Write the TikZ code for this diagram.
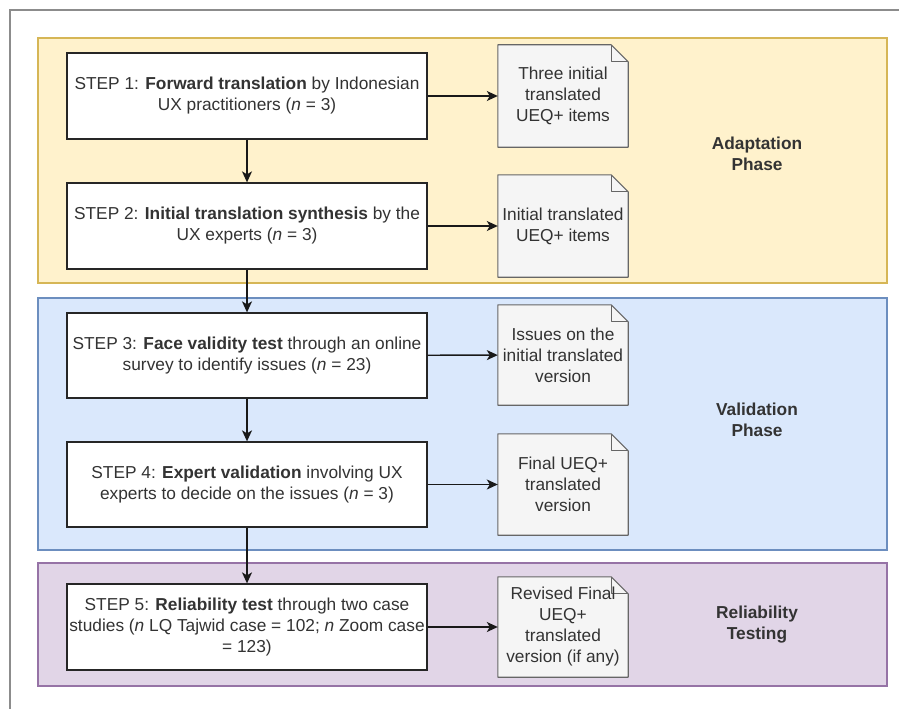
\documentclass[tikz,border=0pt]{standalone}
\usepackage{fontspec}
\setmainfont{Liberation Sans}
\usetikzlibrary{arrows.meta}
\definecolor{yfill}{HTML}{FFF2CC}\definecolor{ydraw}{HTML}{D6B656}
\definecolor{bfill}{HTML}{DAE8FC}\definecolor{bdraw}{HTML}{6C8EBF}
\definecolor{pfill}{HTML}{E1D5E7}\definecolor{pdraw}{HTML}{9673A6}
\definecolor{docfill}{HTML}{F5F5F5}\definecolor{docdraw}{HTML}{666666}
\definecolor{txt}{HTML}{333333}
\definecolor{framec}{HTML}{8C8C8C}
\pgfdeclarelayer{bg}\pgfdeclarelayer{mid}
\pgfsetlayers{bg,mid,main}
\begin{document}
\begin{tikzpicture}[x=1pt,y=-1pt,
  band/.style={line width=1.2pt},
  stepbox/.style={draw=black!85, line width=1.3pt, fill=white, minimum width=360pt,
    minimum height=86pt, inner sep=0pt, align=center, text=txt,
    font=\fontsize{17.3}{21}\selectfont},
  docnode/.style={minimum width=130pt, minimum height=101pt, inner sep=0pt, align=center,
    text=txt, font=\fontsize{17.3}{21}\selectfont},
  docshape/.style={draw=docdraw, fill=docfill, line width=1.1pt, line join=round},
  phase/.style={align=center, text=txt, font=\fontsize{17.3}{21}\selectfont\bfseries},
  conn/.style={-{Stealth[length=11pt,width=10pt,inset=3pt]}, line width=1.4pt, draw=black!90}]
\useasboundingbox (0,0) rectangle (899,709);

\begin{pgfonlayer}{bg}
\fill[white] (0,0) rectangle (899,709);
\draw[band, draw=ydraw, fill=yfill] (38,38) rectangle (887,283);
\draw[band, draw=bdraw, fill=bfill] (38,298) rectangle (887,550);
\draw[band, draw=pdraw, fill=pfill] (38,563) rectangle (887,686);
\end{pgfonlayer}
\draw[framec, line width=1.5pt] (10,709) -- (10,10) -- (899,10);

% steps
\node[stepbox] (s1) at (247,96) {STEP 1: \textbf{Forward translation} by Indonesian\\UX practitioners (\textit{n} = 3)};
\node[stepbox] (s2) at (247,226) {STEP 2: \textbf{Initial translation synthesis} by the\\UX experts (\textit{n} = 3)};
\node[stepbox, minimum height=85pt] (s3) at (247,355.5) {STEP 3: \textbf{Face validity test} through an online\\survey to identify issues (\textit{n} = 23)};
\node[stepbox, minimum height=85pt] (s4) at (247,484.5) {STEP 4: \textbf{Expert validation} involving UX\\experts to decide on the issues (\textit{n} = 3)};
\node[stepbox] (s5) at (247,627) {STEP 5: \textbf{Reliability test} through two case\\studies (\textit{n} LQ Tajwid case = 102; \textit{n} Zoom case\\= 123)};

% documents
\node[docnode, minimum height=102pt] (d1) at (563,96) {Three initial\\translated\\UEQ+ items};
\node[docnode, minimum height=102pt] (d2) at (563,226) {Initial translated\\UEQ+ items};
\node[docnode, minimum height=100pt] (d3) at (563,355) {Issues on the\\initial translated\\version};
\node[docnode, minimum height=101pt] (d4) at (563,484.5) {Final UEQ+\\translated\\version};
\node[docnode, minimum height=100pt] (d5) at (563,627) {Revised Final\\UEQ+\\translated\\version (if any)};

\begin{pgfonlayer}{mid}
\foreach \d in {d1,d2,d3,d4,d5}{
  \draw[docshape] (\d.north west) -- ([xshift=-17pt]\d.north east) -- ([yshift=-17pt]\d.north east)
     -- (\d.south east) -- (\d.south west) -- cycle;
  \draw[docdraw, line width=1.1pt, line join=round] ([xshift=-17pt]\d.north east) -- ([xshift=-17pt,yshift=-17pt]\d.north east) -- ([yshift=-17pt]\d.north east);
}
\end{pgfonlayer}

% phase labels
\node[phase] (p1) at (757,153.5) {Adaptation\\Phase};
\node[phase] (p2) at (757,419.5) {Validation\\Phase};
\node[phase] (p3) at (757,625) {Reliability\\Testing};

% connectors
\draw[conn] (s1) -- (s2);
\draw[conn] (s2) -- (s3);
\draw[conn] (s3) -- (s4);
\draw[conn] (s4) -- (s5);
\draw[conn] (s1) -- (d1);
\draw[conn] (s2) -- (d2);
\draw[conn] (s3) -- (d3);
\draw[conn] (s4) -- (d4);
\draw[conn] (s5) -- (d5);
\end{tikzpicture}
\end{document}
